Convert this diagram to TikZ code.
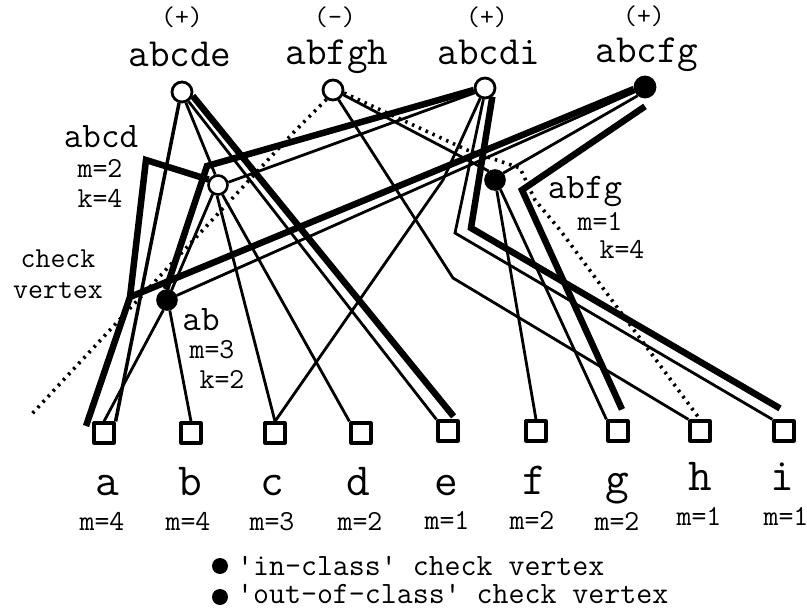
\documentclass[tikz,border=0pt]{standalone}
\pgfdeclarelayer{edges}
\pgfsetlayers{edges,main}
\begin{document}
\begin{tikzpicture}[x=1pt,y=-1pt,line cap=round,line join=round]
        \tikzstyle{classv} = [circle, draw, line width=2.8pt, fill=white, minimum size=20pt, inner sep=0pt]
        \tikzstyle{classin} = [classv, fill=black]
        \tikzstyle{checkv} = [circle, draw, line width=2.6pt, fill=white, minimum size=19pt, inner sep=0pt]
        \tikzstyle{checkin} = [checkv, fill=black]
        \tikzstyle{leaf} = [rectangle, draw, line width=3.2pt, fill=white, minimum size=20pt, inner sep=0pt]
        \tikzstyle{thinline} = [line width=2.8pt]
        \tikzstyle{medline} = [line width=3.5pt]
        \tikzstyle{thickline} = [line width=6.5pt]
        \tikzstyle{dotline} = [line width=3.6pt, dash pattern=on 2.5pt off 5pt]
        \tikzstyle{classtxt} = [font=\ttfamily\fontsize{40}{40}\selectfont, anchor=base, inner sep=0pt]
        \tikzstyle{signtxt} = [font=\ttfamily\fontsize{27}{27}\selectfont, anchor=base, inner sep=0pt]
        \tikzstyle{checktxt} = [font=\ttfamily\fontsize{36}{36}\selectfont, anchor=base, inner sep=0pt]
        \tikzstyle{smalltxt} = [font=\ttfamily\fontsize{29}{29}\selectfont, anchor=base, inner sep=0pt]
        \tikzstyle{leaftxt} = [font=\ttfamily\fontsize{46}{46}\selectfont, anchor=base, inner sep=0pt]
        \tikzstyle{legtxt} = [font=\ttfamily\fontsize{31}{31}\selectfont, anchor=base west, inner sep=0pt]

        \useasboundingbox (0,0) rectangle (807,610);

        % Class vertices
        \node[classv] (abcde) at (182,92) {};
        \node[classv] (abfgh) at (333,90) {};
        \node[classv] (abcdi) at (485,88) {};
        \node[classin] (abcfg) at (645,87) {};

        \node[classtxt] (tabcde) at (180,67) {abcde};
        \node[classtxt] (tabfgh) at (337,65) {abfgh};
        \node[classtxt] (tabcdi) at (489,65) {abcdi};
        \node[classtxt] (tabcfg) at (647,63) {abcfg};

        \node[signtxt] (sabcde) at (182,26) {(+)};
        \node[signtxt] (sabfgh) at (335,26) {(-)};
        \node[signtxt] (sabcdi) at (487,26) {(+)};
        \node[signtxt] (sabcfg) at (644,25) {(+)};

        % Check vertices
        \node[checkv] (abcd) at (218,185) {};
        \node[checkin] (abfg) at (495,180) {};
        \node[checkin] (ab) at (167,300) {};

        \node[checktxt] (tabcd) at (101,147) {abcd};
        \node[smalltxt] (mabcd) at (100,177) {m=2};
        \node[smalltxt] (kabcd) at (100,207) {k=4};
        \node[checktxt] (tabfg) at (585,198) {abfg};
        \node[smalltxt] (mabfg) at (600,230) {m=1};
        \node[smalltxt] (kabfg) at (622,258) {k=4};
        \node[checktxt] (tab) at (201,330) {ab};
        \node[smalltxt] (mab) at (212,358) {m=3};
        \node[smalltxt] (kab) at (222,388) {k=2};

        \node[smalltxt] (tcheck) at (58,267) {check};
        \node[smalltxt] (tvertex) at (58,298) {vertex};

        % Leaf vertices
        \node[leaf] (a) at (104,433) {};
        \node[leaf] (b) at (191,433) {};
        \node[leaf] (c) at (275,433) {};
        \node[leaf] (d) at (361,433) {};
        \node[leaf] (e) at (448,431) {};
        \node[leaf] (f) at (536,431) {};
        \node[leaf] (g) at (618,431) {};
        \node[leaf] (h) at (700,431) {};
        \node[leaf] (i) at (784,431) {};

        \node[leaftxt] (la) at (107,495) {a};
        \node[leaftxt] (lb) at (190,495) {b};
        \node[leaftxt] (lc) at (272,495) {c};
        \node[leaftxt] (ld) at (358,495) {d};
        \node[leaftxt] (le) at (446,495) {e};
        \node[leaftxt] (lf) at (534,494) {f};
        \node[leaftxt] (lg) at (617,493) {g};
        \node[leaftxt] (lh) at (700,490) {h};
        \node[leaftxt] (li) at (782,490) {i};

        \node[smalltxt] (ma) at (102,530) {m=4};
        \node[smalltxt] (mb) at (188,530) {m=4};
        \node[smalltxt] (mc) at (272,530) {m=3};
        \node[smalltxt] (md) at (360,530) {m=2};
        \node[smalltxt] (me) at (447,529) {m=1};
        \node[smalltxt] (mf) at (532,529) {m=2};
        \node[smalltxt] (mg) at (617,530) {m=2};
        \node[smalltxt] (mh) at (699,525) {m=1};
        \node[smalltxt] (mi) at (786,525) {m=1};

        % Legend
        \node[circle, fill=black, minimum size=16pt, inner sep=0pt] (bin) at (220,566) {};
        \node[circle, fill=black, minimum size=16pt, inner sep=0pt] (bout) at (220,597) {};
        \node[legtxt] (lin) at (237,575) {\textquotesingle in-class\textquotesingle{} check vertex};
        \node[legtxt] (lout) at (237,603) {\textquotesingle out-of-class\textquotesingle{} check vertex};

        % Bends
        \coordinate (kJ) at (130,297);
        \coordinate (kL) at (146,160);
        \coordinate (kB) at (207,166);
        \coordinate (kD1) at (293,133);
        \coordinate (dEnd) at (30,416);
        \coordinate (kH) at (453,278);
        \coordinate (kI1) at (455,233);
        \coordinate (kI2) at (471,228);
        \coordinate (kC) at (443,180);
        \coordinate (kG) at (522,190);
        \coordinate (kD2a) at (467,150);
        \coordinate (kD2b) at (520,168);
        \coordinate (kD2c) at (535,200);
        \coordinate (kD2d) at (560,230);
        \coordinate (aEnd) at (86,426);

        \begin{pgfonlayer}{edges}
        % abcde
        \draw[medline] (abcde.255) -- (a.north east);
        \draw[thinline] (abcde.290) -- (abcd.105);
        \draw[thinline] (abcde.305) -- (e.north west);
        \draw[thickline] (abcde.340) -- ([xshift=-6pt,yshift=3pt]e.north east);

        % abcdi
        \draw[thickline] (abcdi.190) -- (kB) -- (ab.95);
        \draw[thinline] (abcdi.205) -- (abcd.15);
        \draw[thinline] (abcdi.262) -- (kI1) -- (i.north west);
        \draw[thickline] (abcdi.310) -- (kI2) -- ([xshift=-4pt,yshift=11pt]i.north);
        \draw[thinline] (abcdi.245) -- (kC) -- (c.north);

        % abcfg
        \draw[thickline] (abcfg.190) -- (kJ) -- (aEnd);
        \draw[thinline] (abcfg.205) -- (ab.25);
        \draw[thinline] (abfg.40) -- (abcfg.230);
        \draw[thickline] ([yshift=-8pt]abcfg.south) -- (kG) -- ([xshift=4pt,yshift=10pt]g.north);

        % abfg
        \draw[thinline] (abfg) -- (f.north);
        \draw[thinline] (abfg.-60) -- (g.north west);

        % abfgh
        \draw[thinline] (abfgh.-60) -- (kH) -- (h.north west);
        \draw[thinline] (abfgh.-25) -- (abfg.125);
        \draw[dotline] (abfgh.235) -- (kD1) -- (dEnd);
        \draw[dotline] (abfgh.-15) -- (kD2a) -- (kD2b) -- (kD2c) -- (kD2d) -- (h.north);

        % abcd
        \draw[thinline] (abcd.240) -- (ab.65);
        \draw[thinline] (abcd.-95) -- (c.north);
        \draw[thinline] (abcd.-65) -- (d.north west);
        \draw[thickline] (abcd.150) -- (kL) -- (kJ);

        % ab
        \draw[thinline] (ab.-110) -- (a.north);
        \draw[thinline] (ab.-75) -- (b.north);
        \end{pgfonlayer}
\end{tikzpicture}
\end{document}
